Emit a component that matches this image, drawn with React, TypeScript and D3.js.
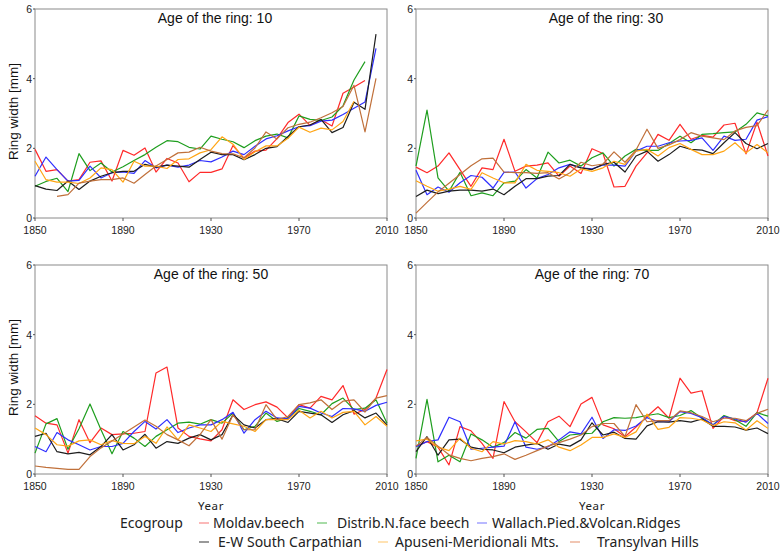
import React from 'react';
import * as d3 from 'd3';

const years = [
  1850, 1855, 1860, 1865, 1870, 1875, 1880, 1885, 1890, 1895, 1900, 1905, 1910, 1915, 1920, 1925, 1930,
  1935, 1940, 1945, 1950, 1955, 1960, 1965, 1970, 1975, 1980, 1985, 1990, 1995, 2000, 2005, 2010,
];
const xTicks = [1850, 1890, 1930, 1970, 2010];
const yTicks = [0, 2, 4, 6];

const groups = [
  'Moldav.beech',
  'Distrib.N.face beech',
  'Wallach.Pied.&Volcan.Ridges',
  'E-W South Carpathian',
  'Apuseni-Meridionali Mts.',
  'Transylvan Hills',
];
const colors = ['#ff2a2a', '#1e9e1e', '#2f2fff', '#1e1e1e', '#ffa514', '#c0703a'];
const keyColors = ['#f88a8a', '#6cc46c', '#8a8aff', '#555555', '#ffcf80', '#e8a080'];

type V = number | null;

// age 10
const red10: V[] = [1.97, 1.34, 1.39, 1.06, 1.1, 1.6, 1.64, 1.06, 1.94, 1.8, 2.01, 1.32, 1.71, 1.58, 1.04, 1.31, 1.31, 1.41, 2.08, 1.72, 1.92, 1.95, 2.28, 2.74, 2.98, 2.66, 2.82, 2.64, 3.58, 3.76, 3.95, null, null];
const green10: V[] = [0.91, 1.05, 1.14, 0.76, 1.85, 1.36, 1.58, 1.32, 1.47, 1.65, 1.82, 2.03, 2.22, 2.19, 2.03, 1.98, 2.35, 2.26, 2.19, 2.02, 2.22, 2.35, 2.41, 2.3, 2.93, 2.83, 2.8, 2.9, 3.22, 3.96, 4.49, null, null];
const blue10: V[] = [1.2, 1.75, 1.39, 1.06, 1.08, 1.49, 1.15, 1.3, 1.32, 1.28, 1.65, 1.44, 1.52, 1.46, 1.52, 1.65, 1.61, 1.75, 1.92, 1.82, 2.06, 2.27, 2.36, 2.5, 2.62, 2.65, 2.78, 2.81, 2.97, 3.15, 3.33, 4.87, null];
const black10: V[] = [0.93, 0.83, 0.79, 1.06, 0.82, 1.06, 1.2, 1.3, 1.34, 1.34, 1.54, 1.46, 1.52, 1.49, 1.46, 1.68, 1.89, 1.82, 1.82, 1.67, 1.82, 2.0, 2.05, 2.34, 2.62, 2.67, 2.83, 2.45, 2.6, 3.32, 3.12, 5.28, null];
const orange10: V[] = [1.63, 1.1, 1.03, 1.03, 0.99, 1.15, 1.44, 1.39, 1.03, 1.63, 1.49, 1.49, 1.42, 1.68, 1.7, 1.87, 1.96, 2.33, 2.12, 1.68, 1.9, 2.07, 2.07, 2.29, 2.61, 2.46, 2.58, 2.53, 2.77, 3.35, null, null, null];
const brown10: V[] = [null, null, 0.62, 0.67, 1.0, 1.06, 1.1, 1.1, 1.15, 1.0, 1.25, 1.49, 1.68, 1.87, 1.89, 2.03, 1.92, 1.85, 1.84, 1.73, 2.01, 2.47, 2.27, 2.59, 2.69, 2.75, 2.88, 3.02, 3.2, 3.81, 2.47, 4.01, null];

// age 30
const red30: V[] = [1.46, 1.3, 1.49, 1.87, 1.39, 0.91, 1.44, 1.39, 2.26, 1.34, 1.49, 1.52, 1.58, 1.2, 1.49, 1.28, 1.99, 1.85, 0.89, 0.91, 1.49, 1.87, 2.4, 2.23, 2.69, 2.26, 2.37, 2.32, 2.67, 2.72, 1.84, 2.75, 1.78];
const green30: V[] = [1.49, 3.1, 1.15, 0.77, 1.31, 0.64, 0.72, 0.64, 1.01, 1.06, 1.39, 1.15, 1.89, 1.58, 1.66, 1.49, 1.73, 1.87, 1.49, 1.78, 1.97, 1.94, 1.94, 2.14, 2.35, 2.16, 2.4, 2.42, 2.45, 2.47, 2.69, 3.02, 2.93];
const blue30: V[] = [1.37, 0.67, 0.89, 0.74, 1.01, 1.22, 1.17, 0.86, 1.31, 1.32, 0.86, 1.13, 1.25, 1.44, 1.54, 1.44, 1.41, 1.52, 1.52, 1.49, 1.92, 2.06, 2.06, 2.16, 2.21, 2.23, 2.3, 1.94, 2.35, 2.23, 2.26, 2.81, 2.91];
const black30: V[] = [0.62, 0.8, 0.7, 0.77, 0.8, 0.8, 0.77, 0.83, 0.67, 0.91, 1.13, 1.13, 1.2, 1.22, 1.54, 1.44, 1.39, 1.54, 1.6, 1.32, 1.78, 1.92, 1.63, 1.82, 2.06, 1.97, 1.95, 1.85, 2.16, 2.45, 2.14, 1.99, 2.14];
const orange30: V[] = [1.07, 0.91, 0.77, 0.83, 0.91, 0.82, 1.3, 1.15, 1.01, 1.01, 1.54, 1.37, 1.34, 1.3, 1.2, 1.41, 1.34, 1.44, 1.63, 1.54, 1.92, 1.97, 1.78, 2.02, 2.14, 1.97, 1.82, 1.82, 1.92, 2.16, 1.87, 2.11, 1.87];
const brown30: V[] = [0.14, 0.45, 0.75, 1.0, 1.25, 1.5, 1.7, 1.72, 1.32, 1.3, 1.3, 1.28, 1.3, 1.12, 1.3, 1.6, 1.5, 1.55, 1.9, 1.6, 1.95, 2.55, 2.0, 2.1, 2.25, 2.45, 2.35, 2.3, 2.25, 2.5, 2.6, 2.65, 3.1];

// age 50
const red50: V[] = [1.67, 1.46, 1.41, 0.6, 1.56, 0.9, 1.32, 1.13, 1.15, 1.17, 1.22, 2.9, 3.07, 1.32, 1.08, 1.01, 0.95, 1.27, 2.13, 1.85, 1.99, 2.07, 1.92, 1.61, 1.99, 1.89, 2.23, 2.13, 2.54, 1.72, 1.85, 2.18, 3.0];
const green50: V[] = [0.6, 1.44, 1.59, 0.71, 1.3, 2.01, 1.27, 0.58, 1.22, 1.03, 0.79, 1.08, 1.27, 1.46, 1.49, 1.43, 1.56, 1.46, 1.75, 1.27, 1.37, 1.75, 1.51, 1.61, 1.88, 1.8, 1.7, 2.02, 2.18, 1.85, 1.89, 2.13, 1.46];
const blue50: V[] = [0.79, 0.64, 1.19, 0.98, 0.84, 0.69, 0.79, 0.79, 0.88, 1.22, 1.51, 1.29, 1.56, 1.19, 1.32, 1.41, 1.41, 1.56, 1.77, 1.17, 1.56, 1.8, 1.61, 1.58, 1.94, 1.89, 1.75, 1.65, 1.88, 1.87, 1.8, 1.97, 2.06];
const black50: V[] = [1.08, 1.17, 0.64, 0.58, 0.62, 0.55, 0.79, 1.13, 0.69, 0.84, 1.14, 0.74, 0.93, 0.88, 1.03, 1.13, 0.98, 1.13, 1.7, 1.41, 1.32, 1.56, 1.59, 1.48, 1.8, 1.75, 1.7, 1.48, 1.7, 1.82, 1.61, 1.75, 1.41];
const orange50: V[] = [1.32, 1.13, 0.84, 0.8, 0.95, 0.98, 0.84, 0.96, 0.88, 0.87, 1.08, 0.88, 1.35, 0.98, 1.41, 1.32, 1.22, 1.51, 1.44, 1.37, 1.22, 1.56, 1.56, 1.56, 1.83, 1.61, 1.8, 1.61, 1.77, 1.8, 1.41, 1.65, 1.37];
const brown50: V[] = [0.23, 0.19, 0.16, 0.13, 0.13, 0.5, 0.75, 0.95, 1.15, 1.35, 1.55, 1.37, 1.13, 0.98, 0.81, 1.13, 1.56, 1.0, 1.7, 1.27, 1.27, 1.99, 1.56, 1.65, 1.99, 2.04, 2.13, 1.85, 2.09, 2.13, 1.78, 2.18, 2.25];

// age 70
const red70: V[] = [0.8, 0.93, 0.77, 0.26, 1.36, 1.24, 0.88, 0.45, 2.08, 1.5, 1.21, 0.9, 1.5, 1.66, 1.36, 2.01, 2.2, 1.41, 1.3, 1.07, 1.35, 1.65, 1.93, 1.6, 2.75, 2.32, 2.39, 1.31, 1.65, 1.53, 1.5, 1.76, 2.75];
const green70: V[] = [0.45, 2.14, 0.35, 0.54, 0.35, 1.15, 0.98, 0.77, 0.9, 1.19, 1.03, 1.28, 1.31, 0.93, 1.12, 1.15, 1.17, 1.5, 1.62, 1.6, 1.62, 1.68, 1.73, 1.62, 1.68, 1.82, 1.6, 1.41, 1.68, 1.56, 1.37, 1.76, 1.66];
const blue70: V[] = [0.78, 0.93, 0.98, 1.63, 1.5, 0.71, 0.74, 0.77, 0.8, 1.5, 0.77, 0.71, 0.78, 0.98, 1.21, 1.15, 1.63, 1.02, 1.27, 1.25, 1.38, 1.62, 1.5, 1.5, 1.79, 1.74, 1.62, 1.41, 1.65, 1.58, 1.49, 1.74, 1.45];
const black70: V[] = [0.64, 1.07, 0.54, 0.98, 1.0, 0.77, 0.71, 0.69, 0.61, 0.77, 0.83, 0.88, 0.71, 0.86, 0.8, 0.98, 1.47, 1.12, 1.2, 1.02, 1.0, 1.38, 1.5, 1.49, 1.53, 1.49, 1.58, 1.37, 1.37, 1.35, 1.26, 1.32, 1.16];
const orange70: V[] = [0.95, 1.0, 0.77, 0.67, 1.03, 0.74, 0.64, 0.93, 0.86, 0.96, 0.93, 0.86, 0.98, 0.77, 0.67, 0.83, 1.05, 1.05, 1.15, 1.05, 1.21, 1.72, 1.28, 1.34, 1.62, 1.6, 1.55, 1.39, 1.5, 1.47, 1.26, 1.53, 1.31];
const brown70: V[] = [0.8, 1.05, 0.8, 0.55, 0.45, 0.38, 0.45, 0.5, 0.58, 0.42, 0.54, 0.67, 0.8, 0.9, 1.0, 1.12, 1.36, 1.45, 1.45, 1.08, 1.99, 1.5, 1.53, 1.53, 1.81, 1.76, 1.65, 1.5, 1.6, 1.6, 1.53, 1.74, 1.86];

const panels = [
  { title: 'Age of the ring: 10', series: [red10, green10, blue10, black10, orange10, brown10], left: 35, right: 387, top: 9, bottom: 218, titleX: 215, yLabel: true },
  { title: 'Age of the ring: 30', series: [red30, green30, blue30, black30, orange30, brown30], left: 416, right: 768, top: 9, bottom: 218, titleX: 606, yLabel: false },
  { title: 'Age of the ring: 50', series: [red50, green50, blue50, black50, orange50, brown50], left: 35, right: 387, top: 265, bottom: 474, titleX: 211, yLabel: true },
  { title: 'Age of the ring: 70', series: [red70, green70, blue70, black70, orange70, brown70], left: 416, right: 768, top: 265, bottom: 474, titleX: 592, yLabel: false },
];

// legend key x, label x, row
const legendItems = [
  { key: 199, label: 213, row: 0 },
  { key: 317, label: 337, row: 0 },
  { key: 477, label: 492, row: 0 },
  { key: 199, label: 218, row: 1 },
  { key: 378, label: 395, row: 1 },
  { key: 570, label: 597, row: 1 },
];

const tickFont = '"Liberation Sans", Arial, sans-serif';
const legendFont = '"Noto Sans", sans-serif';

const Panel = ({ p }: { p: (typeof panels)[number] }) => {
  const x = d3.scaleLinear().domain([1850, 2010]).range([p.left, p.right]);
  const y = d3.scaleLinear().domain([0, 6]).range([p.bottom, p.top]);
  const line = d3
    .line<V>()
    .defined((d) => d !== null)
    .x((_, i) => x(years[i]))
    .y((d) => y(d as number));
  return (
    <g>
      <rect x={p.left} y={p.top} width={p.right - p.left} height={p.bottom - p.top} fill="none" stroke="#8a8a8a" strokeWidth={1} />
      {p.series.map((s, i) => (
        <path key={i} d={line(s) || ''} fill="none" stroke={colors[i]} strokeWidth={1.2} strokeLinejoin="round" />
      ))}
      {xTicks.map((t) => (
        <g key={t}>
          <line x1={x(t)} x2={x(t)} y1={p.bottom} y2={p.bottom + 3} stroke="#555" />
          <text x={x(t)} y={p.bottom + 16} textAnchor="middle" fontSize={10.5} fontFamily={tickFont} fill="#222">
            {t}
          </text>
        </g>
      ))}
      {yTicks.map((t) => (
        <g key={t}>
          <line x1={p.left - 2} x2={p.left} y1={y(t)} y2={y(t)} stroke="#555" />
          <text x={p.left - 3} y={y(t) + 4} textAnchor="end" fontSize={10.5} fontFamily={tickFont} fill="#222">
            {t}
          </text>
        </g>
      ))}
      <text x={p.titleX} y={p.top + 14} textAnchor="middle" fontSize={14} fontFamily={tickFont} fill="#111">
        {p.title}
      </text>
      {p.yLabel && (
        <text
          transform={`translate(18,${(p.top + p.bottom) / 2 - 2}) rotate(-90)`}
          textAnchor="middle"
          fontSize={13.5}
          fontFamily={tickFont}
          fill="#111"
        >
          Ring width [mm]
        </text>
      )}
    </g>
  );
};

export default function App() {
  return (
    <svg width={784} height={552} style={{ position: 'absolute', left: 0, top: 0, background: '#fff' }}>
      {panels.map((p, i) => (
        <Panel key={i} p={p} />
      ))}
      <text x={211} y={510} textAnchor="middle" fontSize={11.5} fontFamily={legendFont} fill="#222" letterSpacing={0.6}>
        Year
      </text>
      <text x={592} y={510} textAnchor="middle" fontSize={11.5} fontFamily={legendFont} fill="#222" letterSpacing={0.6}>
        Year
      </text>
      <text x={120} y={528} fontSize={14} fontFamily={legendFont} fill="#222">
        Ecogroup
      </text>
      {legendItems.map((it, i) => {
        const cy = 523 + it.row * 19;
        return (
          <g key={i}>
            <line x1={it.key} x2={it.key + 10} y1={cy} y2={cy} stroke={keyColors[i]} strokeWidth={1.2} />
            <text x={it.label} y={cy + 5} fontSize={14} fontFamily={legendFont} fill="#222">
              {groups[i]}
            </text>
          </g>
        );
      })}
    </svg>
  );
}
